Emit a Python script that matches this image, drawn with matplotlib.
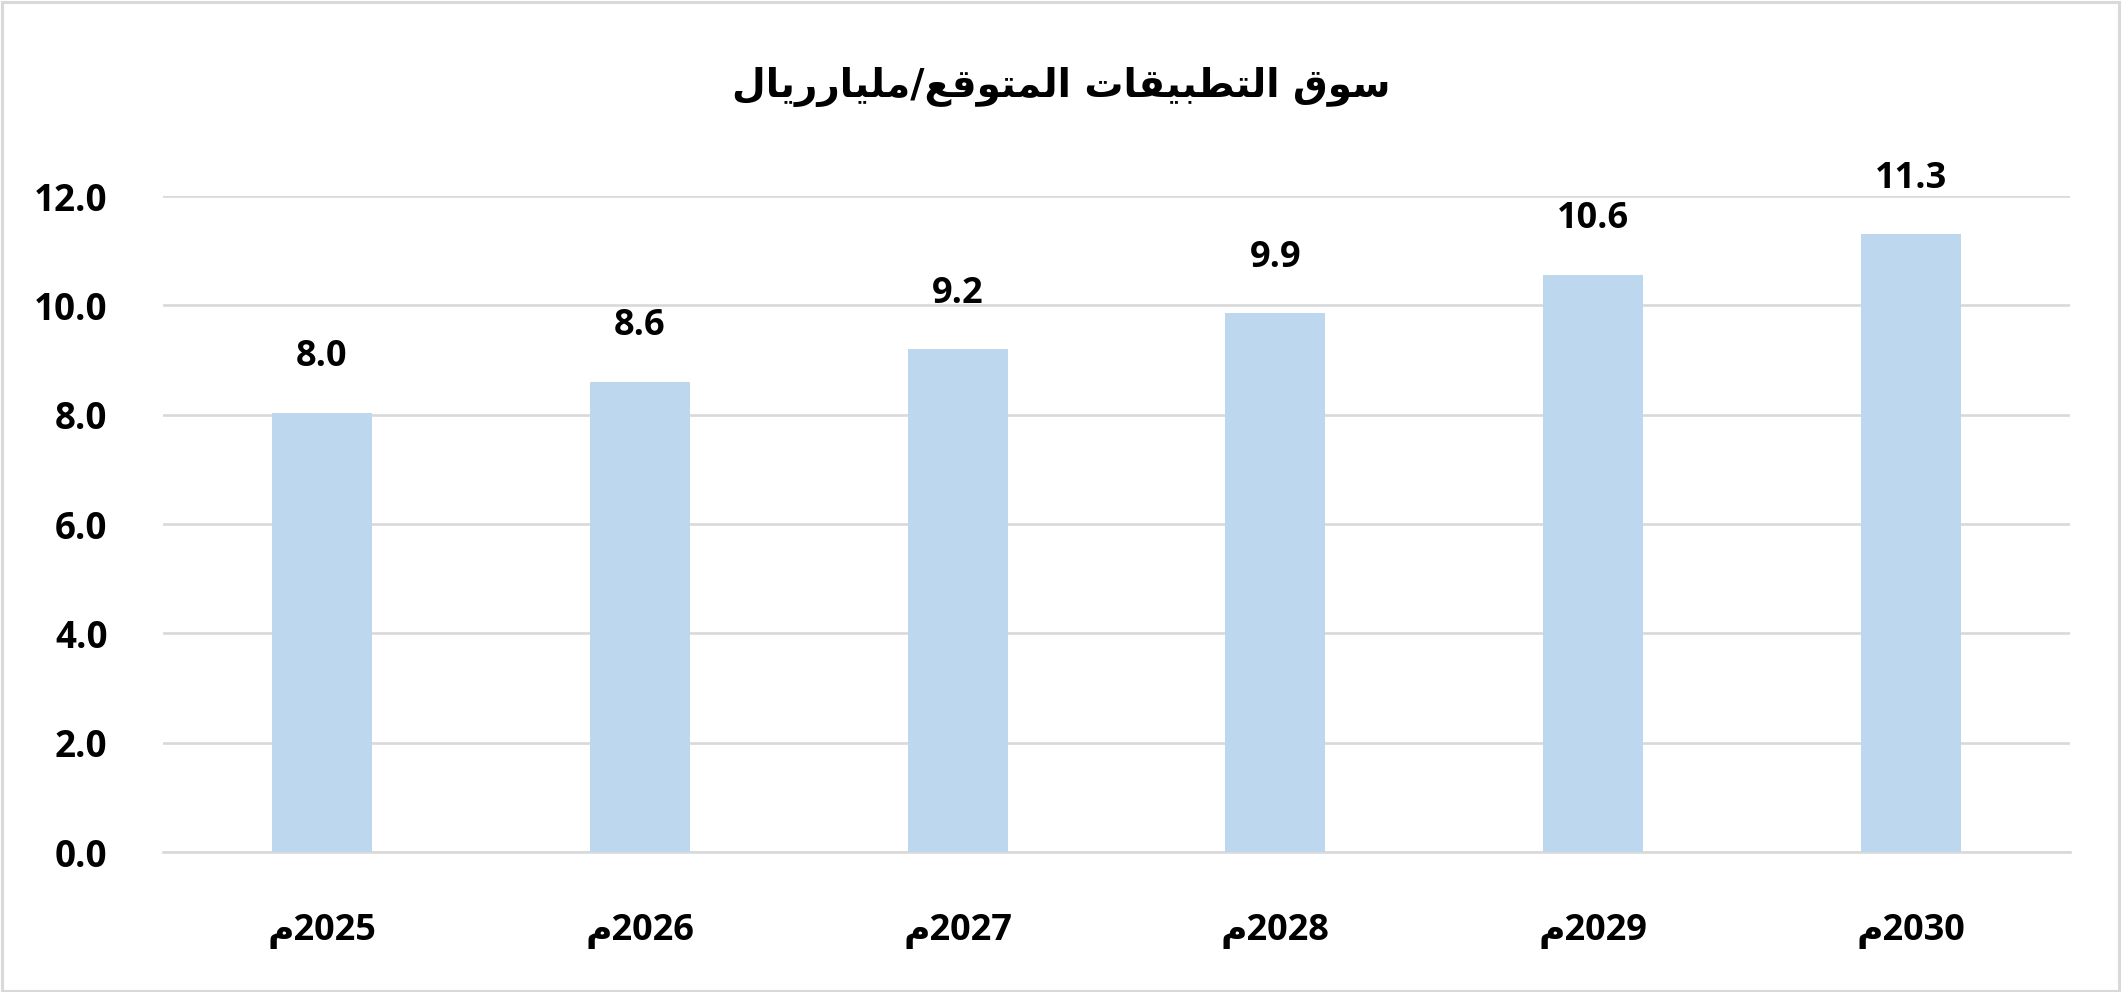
import numpy as np
import matplotlib
matplotlib.use("Agg")
import matplotlib.pyplot as plt
from matplotlib.patches import Rectangle

years = ['2025', '2026', '2027', '2028', '2029', '2030']
values = [8.04, 8.6, 9.2, 9.86, 10.56, 11.3]
yticks = [0, 2, 4, 6, 8, 10, 12]

# matplotlib does no arabic shaping, so the title is written in
# presentation forms (logical order) and reversed for display
title_logical = ('\uFEB3\uFEEE\uFED5 '
                 '\uFE8D\uFEDF\uFE98\uFEC4\uFE92\uFEF4\uFED8\uFE8E\uFE95 '
                 '\uFE8D\uFEDF\uFEE4\uFE98\uFEEE\uFED7\uFECA/'
                 '\uFEE3\uFEE0\uFEF4\uFE8E\uFEAD\uFEAD\uFEF3\uFE8E\uFEDD')
title = title_logical[::-1]
mim = '\uFEE1'
xlabels = [mim + y for y in years]

bar_color = '#BDD7EE'
grid_color = '#D9D9D9'
fonts = ['Open Sans', 'DejaVu Sans']

fig = plt.figure(figsize=(21.23, 9.92), dpi=100)
ax = fig.add_axes([0.0768, 0.1411, 0.975 - 0.0768, 0.8024 - 0.1411])

x = np.arange(len(years))
ax.bar(x, values, width=0.315, color=bar_color, zorder=3)

for xi, v in zip(x, values):
    ax.annotate(f'{v:.1f}', (xi, v), xytext=(0, 27), textcoords='offset points',
                ha='center', va='bottom', fontsize=26, fontweight='bold',
                family=fonts, color='black')

ax.set_xlim(-0.5, len(years) - 0.5)
ax.set_ylim(0, 12)
ax.set_yticks(yticks)
ax.set_yticklabels([f'{t:.1f}' for t in yticks], fontsize=26.5, fontweight='bold', family=fonts)
ax.set_xticks(x)
ax.set_xticklabels(xlabels, fontsize=26, fontweight='bold', family=fonts)
ax.tick_params(axis='y', length=0, pad=40)
ax.tick_params(axis='x', length=0, pad=44)

ax.grid(axis='y', color=grid_color, linewidth=1.9, zorder=0)
for s in ['top', 'right', 'left']:
    ax.spines[s].set_visible(False)
ax.spines['bottom'].set_color(grid_color)
ax.spines['bottom'].set_linewidth(1.9)

fig.text(0.5, 0.912, title, ha='center', va='center', fontsize=28,
         fontweight='bold', family='DejaVu Sans')

fig.patches.append(Rectangle((0.001, 0.001), 0.997, 0.997, transform=fig.transFigure,
                             fill=False, edgecolor=grid_color, linewidth=2.2))

fig.savefig('out.png', dpi=100)
